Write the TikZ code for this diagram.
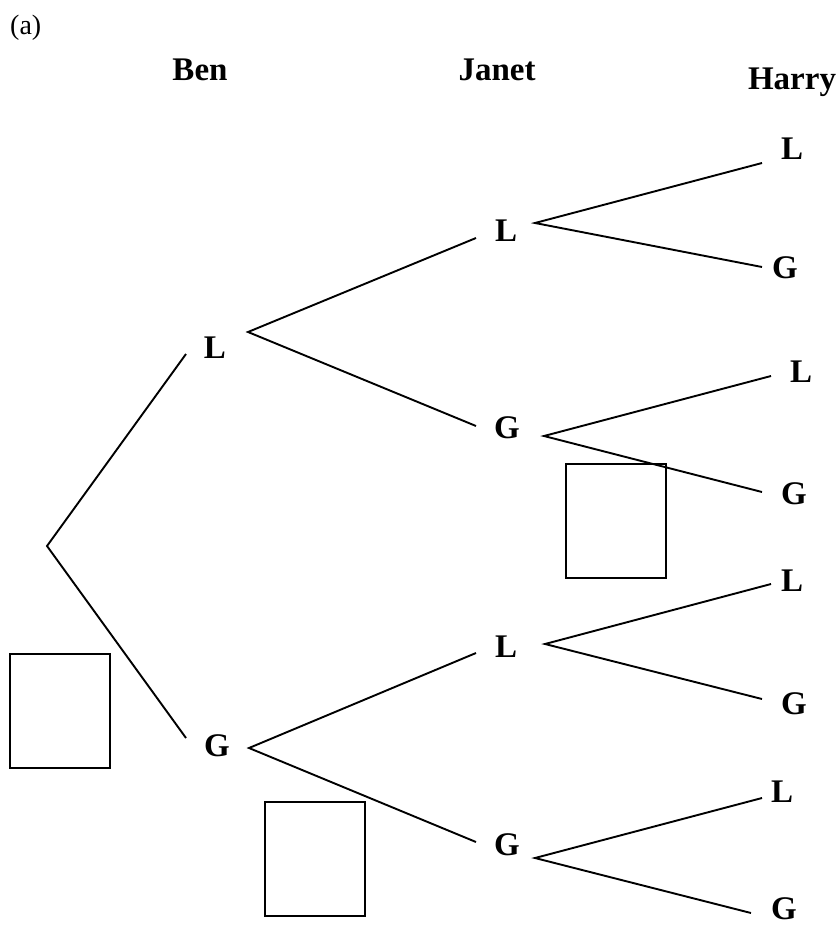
\documentclass[tikz,border=0pt]{standalone}
\usepackage{fontspec}
\setmainfont{Liberation Serif}
\begin{document}
\begin{tikzpicture}[x=1pt,y=-1pt,
  lbl/.style={font=\fontsize{33}{39}\selectfont\bfseries, inner sep=0pt},
  branch/.style={line width=1.9pt},
  answerbox/.style={draw, line width=2pt, inner sep=0pt, minimum width=100pt, minimum height=114pt}]
\useasboundingbox (0,0) rectangle (838,926);
% headings
\node[font=\fontsize{28}{34}\selectfont, inner sep=0pt, anchor=base west] (parta) at (10,34) {(a)};
\node[lbl, anchor=base] (hben) at (200,80) {Ben};
\node[lbl, anchor=base] (hjanet) at (497,80) {Janet};
\node[lbl, anchor=base] (hharry) at (792,89) {Harry};
% root
\coordinate (root) at (47,546);
% Ben
\node[lbl] (bL) at (215,348) {L};
\coordinate (bLin) at (186,354); \coordinate (bLout) at (248,332);
\node[lbl] (bG) at (217,746) {G};
\coordinate (bGin) at (186,738); \coordinate (bGout) at (249,748);
% Janet
\node[lbl] (jL1) at (506,231) {L};
\coordinate (jL1in) at (476,238); \coordinate (jL1out) at (535,223);
\node[lbl] (jG1) at (507,428) {G};
\coordinate (jG1in) at (476,426); \coordinate (jG1out) at (544,436);
\node[lbl] (jL2) at (506,647) {L};
\coordinate (jL2in) at (476,653); \coordinate (jL2out) at (545,644);
\node[lbl] (jG2) at (507,845) {G};
\coordinate (jG2in) at (476,842); \coordinate (jG2out) at (535,858);
% Harry
\node[lbl] (hL1) at (792,149) {L}; \coordinate (hL1in) at (762,163);
\node[lbl] (hG1) at (785,268) {G}; \coordinate (hG1in) at (762,267);
\node[lbl] (hL2) at (801,372) {L}; \coordinate (hL2in) at (771,376);
\node[lbl] (hG2) at (794,494) {G}; \coordinate (hG2in) at (762,492);
\node[lbl] (hL3) at (792,581) {L}; \coordinate (hL3in) at (771,584);
\node[lbl] (hG3) at (794,704) {G}; \coordinate (hG3in) at (762,699);
\node[lbl] (hL4) at (782,792) {L}; \coordinate (hL4in) at (762,798);
\node[lbl] (hG4) at (784,909) {G}; \coordinate (hG4in) at (751,913);
% branches
\draw[branch] (bLin) -- (root) -- (bGin);
\draw[branch] (jL1in) -- (bLout) -- (jG1in);
\draw[branch] (jL2in) -- (bGout) -- (jG2in);
\draw[branch] (hL1in) -- (jL1out) -- (hG1in);
\draw[branch] (hL2in) -- (jG1out) -- (hG2in);
\draw[branch] (hL3in) -- (jL2out) -- (hG3in);
\draw[branch] (hL4in) -- (jG2out) -- (hG4in);
% answer boxes
\node[answerbox] (boxben) at (60,711) {};
\node[answerbox] (boxjanet) at (616,520.5) {};
\node[answerbox] (boxharry) at (314.5,859) {};
\end{tikzpicture}
\end{document}
